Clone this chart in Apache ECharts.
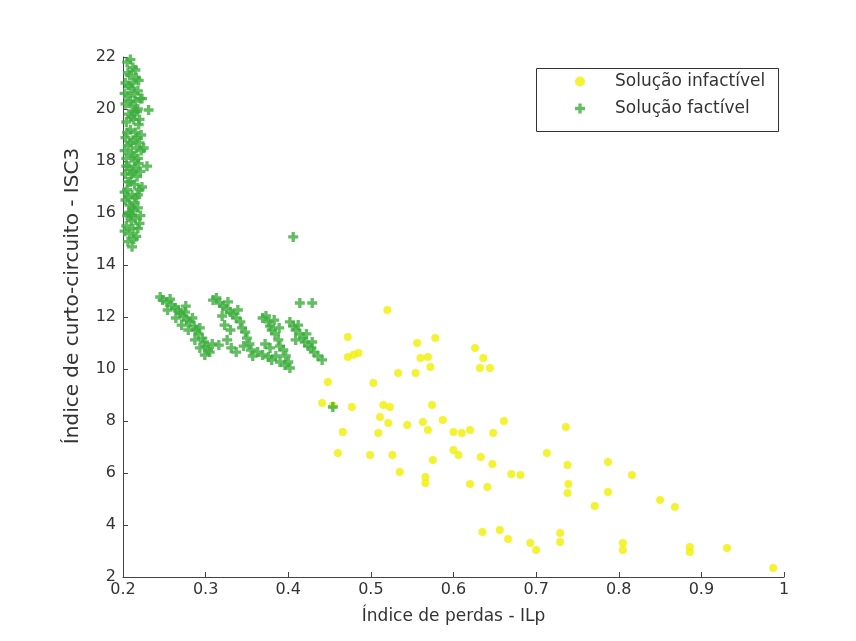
<!DOCTYPE html>
<html>
<head>
<meta charset="utf-8">
<script src="https://cdn.jsdelivr.net/npm/echarts@6/dist/echarts.min.js"></script>
<style>
html,body{margin:0;padding:0;background:#fff;}
#chart{width:856px;height:641px;}
</style>
</head>
<body>
<div id="chart"></div>
<script>
var xTitle = 'Índice de perdas - ILp';
var yTitle = 'Índice de curto-circuito - ISC3';
var seriesNames = ['Solução infactível', 'Solução factível'];

// Infeasible solutions [ILp, ISC3]
var infeasible = [
  [0.520,12.27],[0.472,11.23],[0.472,10.46],[0.485,10.62],[0.448,9.50],[0.503,9.46],
  [0.533,9.85],[0.554,9.85],[0.556,11.00],[0.578,11.19],[0.560,10.42],[0.569,10.46],
  [0.572,10.08],[0.626,10.81],[0.636,10.42],[0.644,10.04],[0.632,10.04],[0.441,8.69],
  [0.477,8.54],[0.515,8.62],[0.523,8.54],[0.574,8.62],[0.511,8.15],[0.521,7.92],
  [0.466,7.58],[0.509,7.54],[0.544,7.85],[0.563,7.96],[0.569,7.65],[0.587,8.04],
  [0.600,7.58],[0.610,7.54],[0.620,7.65],[0.648,7.54],[0.661,8.00],[0.460,6.77],
  [0.499,6.69],[0.526,6.69],[0.535,6.04],[0.566,5.85],[0.575,6.50],[0.600,6.88],
  [0.606,6.69],[0.633,6.62],[0.647,6.35],[0.670,5.96],[0.681,5.92],[0.620,5.58],
  [0.641,5.46],[0.736,7.77],[0.713,6.77],[0.738,6.31],[0.739,5.58],[0.738,5.23],
  [0.787,6.42],[0.816,5.92],[0.787,5.27],[0.771,4.73],[0.850,4.96],[0.868,4.69],
  [0.635,3.73],[0.656,3.81],[0.666,3.46],[0.693,3.31],[0.700,3.04],[0.729,3.69],
  [0.729,3.35],[0.805,3.31],[0.805,3.04],[0.886,3.15],[0.886,2.96],[0.931,3.12],
  [0.987,2.35],[0.479,10.55],[0.566,5.62],[0.454,8.60]
];

// Feasible solutions: vertical band near ILp = 0.2
var feasibleBand = [
  [0.205,21.8],[0.212,21.6],[0.208,21.3],[0.216,21.2],[0.203,21.0],[0.219,21.1],
  [0.210,20.8],[0.214,20.6],[0.206,20.5],[0.221,20.4],[0.223,20.4],[0.203,20.2],
  [0.211,20.1],[0.217,19.9],[0.207,19.8],[0.213,19.6],[0.204,19.5],[0.219,19.4],
  [0.209,19.2],[0.215,19.1],[0.203,18.9],[0.212,18.8],[0.220,18.7],[0.206,18.6],
  [0.216,18.5],[0.222,18.4],[0.210,18.3],[0.204,18.1],[0.214,18.0],[0.219,17.9],
  [0.207,17.8],[0.229,17.8],[0.212,17.6],[0.203,17.5],[0.217,17.4],[0.209,17.2],
  [0.214,17.1],[0.205,16.9],[0.220,16.9],[0.211,16.7],[0.216,16.6],[0.203,16.5],
  [0.208,16.3],[0.218,16.2],[0.213,16.1],[0.205,15.9],[0.215,15.8],[0.210,15.7],
  [0.220,15.6],[0.204,15.5],[0.212,15.4],[0.208,15.2],[0.216,15.1],[0.206,14.9],
  [0.211,14.7],[0.209,21.9],[0.218,20.0],[0.222,19.0],[0.202,20.6],[0.202,18.4],
  [0.202,16.8],[0.202,15.3],[0.223,17.0],[0.221,15.9],[0.207,16.0],[0.214,19.9],
  [0.206,17.2],[0.218,18.1],[0.231,19.96],[0.225,18.5],[0.212,21.0],[0.207,20.9],
  [0.215,21.5],[0.206,21.4],[0.218,20.7],[0.209,20.3],[0.215,20.3],[0.205,19.1],
  [0.217,18.9],[0.209,18.7],[0.212,18.2],[0.221,17.6],[0.210,17.5],[0.206,16.6],
  [0.218,16.7],[0.214,16.4],[0.209,15.9],[0.218,15.4],[0.213,15.0],[0.210,19.7],
  [0.220,19.6],[0.204,17.8],[0.215,17.7],[0.211,16.2]
];

// Feasible solutions: lower cluster
var feasibleCluster = [
  [0.245,12.77],[0.248,12.65],[0.253,12.58],[0.257,12.69],[0.259,12.46],[0.263,12.35],
  [0.267,12.27],[0.269,12.15],[0.273,12.04],[0.275,12.19],[0.277,11.88],[0.281,11.81],
  [0.284,11.96],[0.286,11.65],[0.288,11.50],[0.291,11.35],[0.293,11.58],[0.296,11.19],
  [0.298,11.04],[0.300,10.88],[0.303,10.73],[0.299,10.54],[0.293,10.81],[0.287,11.12],
  [0.279,11.50],[0.271,11.69],[0.264,11.96],[0.305,10.65],[0.308,10.96],[0.254,12.27],
  [0.276,12.42],
  [0.309,12.65],[0.313,12.73],[0.317,12.54],[0.321,12.42],[0.325,12.31],[0.327,12.58],
  [0.330,12.19],[0.333,12.12],[0.337,11.96],[0.339,12.27],[0.342,11.81],[0.344,11.58],
  [0.348,11.42],[0.350,11.19],[0.353,10.96],[0.355,10.73],[0.357,10.50],[0.320,12.04],
  [0.323,11.69],[0.326,11.12],[0.316,10.92],[0.331,10.81],[0.337,10.65],[0.346,10.88],
  [0.330,11.50],
  [0.363,10.65],[0.369,10.54],[0.376,10.46],[0.380,10.35],[0.385,10.50],[0.390,10.27],
  [0.396,10.15],[0.402,10.04],[0.378,10.81],[0.372,10.96],
  [0.369,11.96],[0.373,12.04],[0.376,11.81],[0.378,11.65],[0.380,11.50],[0.384,11.35],
  [0.388,11.12],[0.390,10.88],[0.394,10.73],[0.397,10.50],[0.400,10.27],[0.383,11.88],
  [0.389,11.58],
  [0.402,11.81],[0.406,11.65],[0.409,11.50],[0.412,11.69],[0.414,11.35],[0.418,11.19],
  [0.420,11.04],[0.424,10.88],[0.428,10.81],[0.431,10.65],[0.436,10.50],[0.441,10.35],
  [0.409,11.12],[0.422,11.35],[0.429,11.04],
  [0.414,12.54],[0.429,12.54],[0.406,15.08],[0.454,8.54]
];

var feasible = feasibleBand.concat(feasibleCluster);

var xMin = 0.2, xMax = 1, xStep = 0.1;
var yMin = 2, yMax = 22, yStep = 2;

var FONT = "'DejaVu Sans', 'Liberation Sans', Arial, sans-serif";
var PLUS = 'path://M3,0H6V3H9V6H6V9H3V6H0V3H3Z';
var YELLOW = '#f0f000';
var GREEN = '#3cae3c';

var chart = echarts.init(document.getElementById('chart'));
chart.setOption({
  animation: false,
  backgroundColor: '#ffffff',
  textStyle: { fontFamily: FONT },
  grid: { left: 123, right: 72, top: 57, bottom: 64, containLabel: false },
  graphic: [{
    type: 'rect',
    left: 536, top: 68,
    shape: { width: 242, height: 63 },
    style: { fill: '#ffffff', stroke: '#333333', lineWidth: 1 },
    z: 50
  }],
  legend: {
    orient: 'vertical',
    left: 575, top: 73,
    padding: 0,
    itemWidth: 10, itemHeight: 10,
    itemGap: 10,
    z: 60,
    textStyle: { fontFamily: FONT, fontSize: 17, color: '#333', padding: [0, 0, 0, 25] },
    data: [
      { name: seriesNames[0], icon: 'circle', itemStyle: { color: YELLOW } },
      { name: seriesNames[1], icon: PLUS, itemStyle: { color: GREEN } }
    ]
  },
  xAxis: {
    type: 'value', min: xMin, max: xMax, interval: xStep,
    name: xTitle, nameLocation: 'middle', nameGap: 31,
    nameTextStyle: { fontFamily: FONT, fontSize: 17, color: '#333' },
    axisLine: { show: true, onZero: false, lineStyle: { color: '#444', width: 1 } },
    axisTick: { show: true, inside: true, length: 5, lineStyle: { color: '#444' } },
    axisLabel: { fontFamily: FONT, fontSize: 16, color: '#333', margin: 5 },
    splitLine: { show: false }
  },
  yAxis: {
    type: 'value', min: yMin, max: yMax, interval: yStep,
    name: yTitle, nameLocation: 'middle', nameGap: 40,
    nameTextStyle: { fontFamily: FONT, fontSize: 20, color: '#333', padding: [0, 0, 0, 42] },
    axisLine: { show: true, onZero: false, lineStyle: { color: '#444', width: 1 } },
    axisTick: { show: true, inside: true, length: 5, lineStyle: { color: '#444' } },
    axisLabel: { fontFamily: FONT, fontSize: 16, color: '#333', margin: 7 },
    splitLine: { show: false }
  },
  series: [
    {
      name: seriesNames[0], type: 'scatter', data: infeasible,
      symbol: 'circle', symbolSize: 8,
      itemStyle: { color: YELLOW }
    },
    {
      name: seriesNames[1], type: 'scatter', data: feasible,
      symbol: PLUS, symbolSize: 10,
      itemStyle: { color: GREEN }
    }
  ]
});
</script>
</body>
</html>
